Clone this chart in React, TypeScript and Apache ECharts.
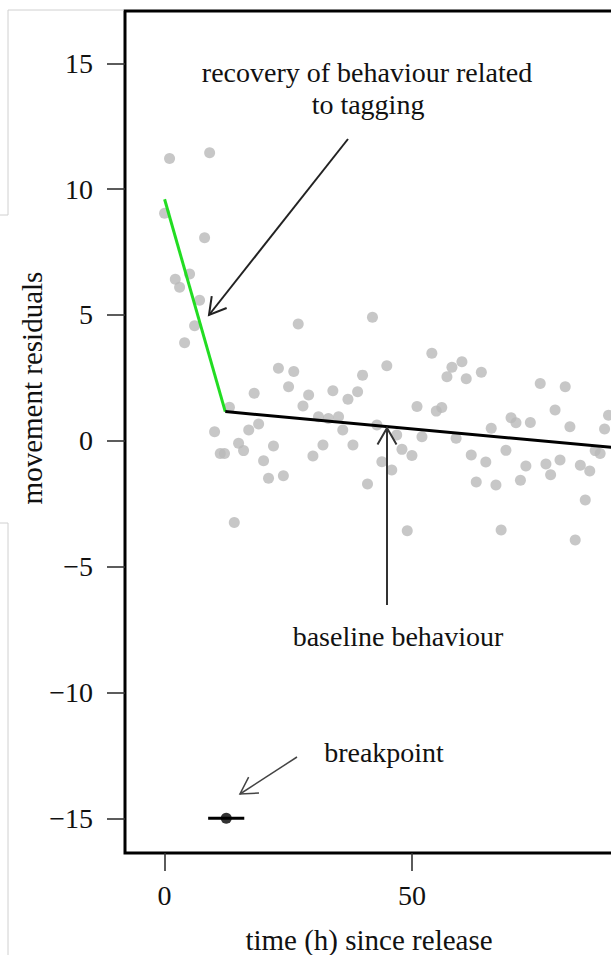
import { useEffect, useRef } from "react";
import * as echarts from "echarts";

const yTicks = [-15, -10, -5, 0, 5, 10, 15];
const xTicks = [0, 50];

const residuals: [number, number][] = [
  [0, 9.04], [1.0, 11.22], [9.1, 11.45], [8.08, 8.07], [2.16, 6.42], [3.03, 6.1],
  [5.05, 6.63], [7.07, 5.59], [6.06, 4.57], [4.04, 3.9], [27.0, 4.64], [42.0, 4.91],
  [23.0, 2.88], [26.1, 2.75], [25.05, 2.15], [18.1, 1.89], [29.1, 1.82], [34.0, 1.99],
  [37.05, 1.65], [39.0, 1.95], [40.0, 2.61], [44.9, 2.98], [27.96, 1.38], [13.1, 1.33],
  [31.1, 0.96], [33.1, 0.89], [35.15, 0.96], [36.0, 0.43], [19.0, 0.67], [17.0, 0.43],
  [10.1, 0.36], [42.9, 0.63], [46.9, 0.23], [14.95, -0.1], [22.0, -0.21], [32.0, -0.17],
  [38.06, -0.17], [11.25, -0.5], [12.1, -0.5], [15.96, -0.39], [20.0, -0.79], [21.0, -1.49],
  [24.0, -1.39], [29.97, -0.6], [41.0, -1.72], [14.08, -3.25], [54.0, 3.48], [58.06, 2.92],
  [60.08, 3.14], [57.05, 2.55], [60.95, 2.47], [64.0, 2.72], [75.9, 2.28], [80.95, 2.15],
  [51.0, 1.36], [54.9, 1.18], [56.0, 1.32], [78.9, 1.22], [89.7, 1.02], [52.0, 0.16],
  [58.9, 0.1], [66.0, 0.5], [70.0, 0.92], [71.0, 0.72], [73.9, 0.73], [81.9, 0.56],
  [88.9, 0.47], [47.96, -0.34], [49.98, -0.58], [43.9, -0.83], [45.9, -1.16], [61.96, -0.56],
  [64.9, -0.84], [68.97, -0.38], [62.97, -1.64], [66.95, -1.76], [71.9, -1.57], [73.0, -1.0],
  [77.05, -0.92], [79.9, -0.76], [78.0, -1.35], [84.0, -0.97], [85.9, -1.2], [85.0, -2.35],
  [87.0, -0.39], [88.0, -0.5], [49.03, -3.57], [68.0, -3.54], [82.97, -3.94],
];

const recoveryFit: [number, number][] = [[0, 9.6], [12.26, 1.16]];
const baselineFit: [number, number][] = [[12.26, 1.16], [110, -0.62]];
const breakpointEst: [number, number][] = [[12.46, -15]];
const breakpointCI: [number, number][] = [[8.8, -15], [16.1, -15]];

const FONT = '"Liberation Serif", "Times New Roman", serif';

function arrow(x1: number, y1: number, x2: number, y2: number, len: number, width: number, color: string) {
  const dx = x1 - x2;
  const dy = y1 - y2;
  const d = Math.hypot(dx, dy);
  const ux = dx / d;
  const uy = dy / d;
  const a = Math.PI / 6;
  const p1 = [x2 + len * (ux * Math.cos(a) - uy * Math.sin(a)), y2 + len * (ux * Math.sin(a) + uy * Math.cos(a))];
  const p2 = [x2 + len * (ux * Math.cos(-a) - uy * Math.sin(-a)), y2 + len * (ux * Math.sin(-a) + uy * Math.cos(-a))];
  return [
    { type: "line", z: 100, shape: { x1, y1, x2, y2 }, style: { stroke: color, lineWidth: width } },
    {
      type: "polyline", z: 100,
      shape: { points: [p1, [x2, y2], p2] },
      style: { stroke: color, lineWidth: width, fill: "none" },
    },
  ];
}

function txt(text: string, x: number, y: number, size: number, rotation = 0) {
  return {
    type: "text", z: 100, x, y, rotation,
    style: {
      text, font: `${size}px ${FONT}`, fill: "#111",
      align: "center", verticalAlign: "middle", textAlign: "center", textVerticalAlign: "middle",
    },
  };
}

export default function App() {
  const ref = useRef<HTMLDivElement>(null);
  useEffect(() => {
    if (!ref.current) return;
    const chart = echarts.init(ref.current, undefined, { renderer: "svg" });
    const fmt = (v: number) => String(v).replace("-", "\u2212");
    chart.setOption({
      animation: false,
      backgroundColor: "#ffffff",
      grid: {
        left: 125, top: 11, width: 584, height: 842,
        show: true, borderColor: "#000", borderWidth: 3, backgroundColor: "transparent",
      },
      xAxis: {
        type: "value", min: -8, max: 110,
        axisLine: { show: false, onZero: false },
        splitLine: { show: false },
        axisTick: { show: true, length: 18, customValues: xTicks, lineStyle: { color: "#333", width: 1.6 } },
        axisLabel: { customValues: xTicks, fontSize: 28, fontFamily: FONT, color: "#111", margin: 28, formatter: fmt },
      },
      yAxis: {
        type: "value", min: -16.38, max: 17.08,
        axisLine: { show: false, onZero: false },
        splitLine: { show: false },
        axisTick: { show: true, length: 18, customValues: yTicks, lineStyle: { color: "#333", width: 1.6 } },
        axisLabel: { customValues: yTicks, fontSize: 28, fontFamily: FONT, color: "#111", margin: 32, formatter: fmt },
      },
      series: [
        {
          type: "scatter", data: residuals, symbolSize: 11,
          itemStyle: { color: "#b9b9b9" }, z: 2,
        },
        {
          type: "line", data: recoveryFit, symbol: "none",
          lineStyle: { color: "#22dd22", width: 3 }, z: 3,
        },
        {
          type: "line", data: baselineFit, symbol: "none",
          lineStyle: { color: "#000", width: 3 }, z: 3,
        },
        {
          type: "line", data: breakpointCI, symbol: "none",
          lineStyle: { color: "#000", width: 3 }, z: 3,
        },
        {
          type: "scatter", data: breakpointEst, symbolSize: 11,
          itemStyle: { color: "#000" }, z: 4,
        },
      ],
      graphic: [
        { type: "line", shape: { x1: 8, y1: 10, x2: 124, y2: 10 }, style: { stroke: "#d0d0d0", lineWidth: 1 } },
        { type: "line", shape: { x1: 8, y1: 10, x2: 8, y2: 215 }, style: { stroke: "#d0d0d0", lineWidth: 1 } },
        { type: "line", shape: { x1: 0, y1: 215, x2: 8, y2: 215 }, style: { stroke: "#d0d0d0", lineWidth: 1 } },
        { type: "line", shape: { x1: 0, y1: 523, x2: 8, y2: 523 }, style: { stroke: "#d0d0d0", lineWidth: 1 } },
        { type: "line", shape: { x1: 8, y1: 523, x2: 8, y2: 955 }, style: { stroke: "#d0d0d0", lineWidth: 1 } },
        txt("recovery of behaviour related", 367, 72, 28),
        txt("to tagging", 368, 104, 28),
        ...arrow(348, 139, 209, 315, 19, 2, "#222"),
        txt("baseline behaviour", 398, 636, 28),
        ...arrow(387, 605, 387, 428, 19, 2, "#333"),
        txt("breakpoint", 384, 752, 28),
        ...arrow(297, 757, 240, 794, 19, 1.5, "#444"),
        txt("time (h) since release", 369, 940, 29),
        txt("movement residuals", 32, 388, 29, Math.PI / 2),
      ],
    });
    return () => chart.dispose();
  }, []);
  return (
    <div style={{ position: "fixed", left: 0, top: 0, width: 611, height: 955, overflow: "hidden", background: "#fff" }}>
      <div ref={ref} style={{ width: 720, height: 955 }} />
    </div>
  );
}
